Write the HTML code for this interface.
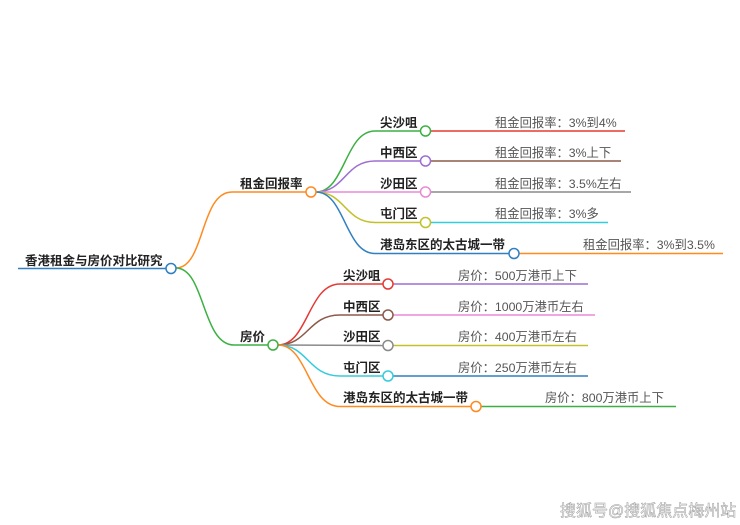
<!DOCTYPE html>
<html><head><meta charset="utf-8"><style>
html,body{margin:0;padding:0;background:#fff;}
svg{display:block;}
.b{font-family:"Liberation Sans","Noto Sans CJK SC",sans-serif;font-size:12.5px;font-weight:bold;fill:#222;}
.l{font-family:"Liberation Sans","Noto Sans CJK SC",sans-serif;font-size:12.3px;fill:#555;}
</style></head><body>
<svg width="740" height="525" viewBox="0 0 740 525" fill="none" stroke-width="1.5">
<line x1="18" y1="268.5" x2="166" y2="268.5" stroke="#2f7fc1"/>
<text class="b" x="25" y="265">香港租金与房价对比研究</text>
<path d="M176 268 C205 268 200 192 232 192 L306 192" stroke="#ff8a1f"/>
<path d="M176 268 C205 268 202 345 234 345 L268 345" stroke="#3cb043"/>
<circle cx="171" cy="268.5" r="5" fill="#fff" stroke="#2f7fc1"/>
<text class="b" x="240" y="188">租金回报率</text>
<text class="b" x="240" y="341">房价</text>

<path d="M316 192 C345 192 345 131 375 131 L420 131" stroke="#3cb043"/>
<path d="M316 192 C345 192 345 161 375 161 L420 161" stroke="#9d6fd1"/>
<path d="M316 192 L420 192" stroke="#e88ad6"/>
<path d="M316 192 C345 192 345 222.5 375 222.5 L420 222.5" stroke="#c3c12a"/>
<path d="M316 192 C345 192 345 253.5 375 253.5 L509 253.5" stroke="#2f7fc1"/>
<line x1="431" y1="131" x2="625" y2="131" stroke="#e53935"/>
<line x1="431" y1="161" x2="621" y2="161" stroke="#8d5a4a"/>
<line x1="431" y1="192" x2="631" y2="192" stroke="#8a8a8a"/>
<line x1="431" y1="222.5" x2="608" y2="222.5" stroke="#33ccdd"/>
<line x1="519" y1="253.5" x2="723" y2="253.5" stroke="#ff8a1f"/>
<circle cx="311" cy="192" r="5" fill="#fff" stroke="#ff8a1f"/>
<circle cx="425.5" cy="131" r="5" fill="#fff" stroke="#3cb043"/>
<circle cx="425.5" cy="161" r="5" fill="#fff" stroke="#9d6fd1"/>
<circle cx="425.5" cy="192" r="5" fill="#fff" stroke="#e88ad6"/>
<circle cx="425.5" cy="222.5" r="5" fill="#fff" stroke="#c3c12a"/>
<circle cx="514" cy="253.5" r="5" fill="#fff" stroke="#2f7fc1"/>
<text class="b" x="380" y="127">尖沙咀</text>
<text class="b" x="380" y="157">中西区</text>
<text class="b" x="380" y="188">沙田区</text>
<text class="b" x="380" y="218">屯门区</text>
<text class="b" x="380" y="249">港岛东区的太古城一带</text>
<text class="l" x="495" y="127">租金回报率：3%到4%</text>
<text class="l" x="495" y="157">租金回报率：3%上下</text>
<text class="l" x="495" y="188">租金回报率：3.5%左右</text>
<text class="l" x="495" y="218">租金回报率：3%多</text>
<text class="l" x="583" y="249">租金回报率：3%到3.5%</text>

<path d="M278 345 C308 345 308 284 340 284 L383 284" stroke="#e53935"/>
<path d="M278 345 C308 345 308 315 340 315 L383 315" stroke="#8d5a4a"/>
<path d="M278 345 L383 345.5" stroke="#8a8a8a"/>
<path d="M278 345 C308 345 308 376 340 376 L383 376" stroke="#33ccdd"/>
<path d="M278 345 C308 345 308 406.5 340 406.5 L471 406.5" stroke="#ff8a1f"/>
<line x1="393" y1="284" x2="588" y2="284" stroke="#9d6fd1"/>
<line x1="393" y1="315" x2="595" y2="315" stroke="#e88ad6"/>
<line x1="393" y1="345.5" x2="588" y2="345.5" stroke="#c3c12a"/>
<line x1="393" y1="376" x2="588" y2="376" stroke="#2f7fc1"/>
<line x1="481" y1="406.5" x2="676" y2="406.5" stroke="#3cb043"/>
<circle cx="273" cy="345" r="5" fill="#fff" stroke="#3cb043"/>
<circle cx="388" cy="284" r="5" fill="#fff" stroke="#e53935"/>
<circle cx="388" cy="315" r="5" fill="#fff" stroke="#8d5a4a"/>
<circle cx="388" cy="345.5" r="5" fill="#fff" stroke="#8a8a8a"/>
<circle cx="388" cy="376" r="5" fill="#fff" stroke="#33ccdd"/>
<circle cx="476" cy="406.5" r="5" fill="#fff" stroke="#ff8a1f"/>
<text class="b" x="343" y="280">尖沙咀</text>
<text class="b" x="343" y="311">中西区</text>
<text class="b" x="343" y="341">沙田区</text>
<text class="b" x="343" y="372">屯门区</text>
<text class="b" x="343" y="402">港岛东区的太古城一带</text>
<text class="l" x="458" y="280">房价：500万港币上下</text>
<text class="l" x="458" y="311">房价：1000万港币左右</text>
<text class="l" x="458" y="341">房价：400万港币左右</text>
<text class="l" x="458" y="372">房价：250万港币左右</text>
<text class="l" x="545" y="402">房价：800万港币上下</text>

<text x="560" y="516" style="font-family:'Liberation Sans','Noto Sans CJK SC',sans-serif;font-size:16px;fill:#fff;stroke:#999;stroke-width:0.5">搜狐号@搜狐焦点梅州站</text>
</svg>
</body></html>
